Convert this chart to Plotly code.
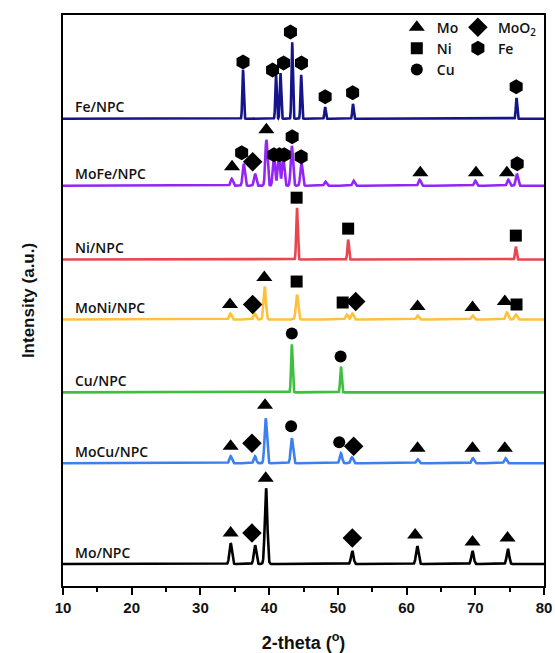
import numpy as np
import plotly.graph_objects as go

# ---------------- data ----------------
samples = ["Mo/NPC", "MoCu/NPC", "Cu/NPC", "MoNi/NPC", "Ni/NPC", "MoFe/NPC", "Fe/NPC"]
offsets = [22, 123, 194, 267, 327, 401, 468]
colors = ["#000000", "#3c7ff0", "#3fbf3f", "#ffc13d", "#e8474f", "#9326f5", "#151589"]

# peak positions (2-theta), heights (a.u.), widths (deg, gaussian sigma)
peak_pos = {
    "Mo/NPC":   [34.4, 37.95, 39.55, 52.1, 61.55, 69.6, 74.75],
    "MoCu/NPC": [34.4, 37.95, 39.5, 43.3, 50.45, 52.05, 61.6, 69.65, 74.4],
    "Cu/NPC":   [43.3, 50.45],
    "MoNi/NPC": [34.35, 37.9, 39.35, 44.05, 51.3, 52.1, 61.6, 69.6, 74.6, 75.9],
    "Ni/NPC":   [44.05, 51.5, 75.9],
    "MoFe/NPC": [34.55, 36.3, 37.95, 39.6, 40.7, 41.4, 42.05, 43.3, 44.7, 48.2, 52.3, 61.9, 70.0, 74.8, 76.05],
    "Fe/NPC":   [36.2, 41.0, 41.65, 43.35, 44.66, 48.15, 52.2, 76.0],
}
peak_h = {
    "Mo/NPC":   [21, 19, 76, 13, 18, 13, 15],
    "MoCu/NPC": [7, 7, 45, 25, 10, 6, 4, 5, 5],
    "Cu/NPC":   [48, 26],
    "MoNi/NPC": [6, 6, 33, 25, 5, 6, 4, 4, 7, 5],
    "Ni/NPC":   [52, 20, 13],
    "MoFe/NPC": [7, 22, 12, 46, 29, 30, 28, 40, 23, 4, 5, 6, 5, 6, 12],
    "Fe/NPC":   [49, 44, 46, 77, 44, 12, 15, 21],
}
peak_w = {
    "Mo/NPC": 0.18, "MoCu/NPC": 0.17, "Cu/NPC": 0.11, "MoNi/NPC": 0.17,
    "Ni/NPC": 0.11, "MoFe/NPC": 0.16, "Fe/NPC": 0.1,
}

# phase markers: (phase, 2-theta, height above the sample baseline)
phase_marks = {
    "Mo/NPC":   [("Mo", 34.4, 31), ("MoO2", 37.5, 31), ("Mo", 39.5, 86), ("MoO2", 52.1, 26),
                 ("Mo", 61.25, 29), ("Mo", 69.6, 22), ("Mo", 74.7, 26)],
    "MoCu/NPC": [("Mo", 34.4, 17), ("MoO2", 37.5, 20), ("Mo", 39.4, 58), ("Cu", 43.2, 37),
                 ("Cu", 50.2, 21), ("MoO2", 52.3, 17), ("Mo", 61.6, 15), ("Mo", 69.6, 15), ("Mo", 74.3, 15)],
    "Cu/NPC":   [("Cu", 43.3, 59), ("Cu", 50.4, 36)],
    "MoNi/NPC": [("Mo", 34.3, 15), ("MoO2", 37.6, 15), ("Mo", 39.3, 42), ("Ni", 44.0, 38),
                 ("Ni", 50.7, 17), ("MoO2", 52.6, 18), ("Mo", 61.6, 13), ("Mo", 69.6, 12),
                 ("Mo", 74.3, 18), ("Ni", 76.0, 15)],
    "Ni/NPC":   [("Ni", 44.0, 62), ("Ni", 51.5, 31), ("Ni", 75.9, 24)],
    "MoFe/NPC": [("Mo", 34.6, 19), ("Fe", 36.0, 33), ("MoO2", 37.6, 24), ("Mo", 39.6, 56),
                 ("Fe", 40.7, 31), ("Fe", 41.5, 31), ("Fe", 42.2, 31), ("Fe", 43.35, 49),
                 ("Fe", 44.66, 29), ("Mo", 62.0, 13), ("Mo", 70.1, 13), ("Mo", 74.6, 13), ("Fe", 76.1, 22)],
    "Fe/NPC":   [("Fe", 36.2, 57), ("Fe", 40.5, 49), ("Fe", 42.1, 56), ("Fe", 43.1, 87),
                 ("Fe", 44.7, 56), ("Fe", 48.15, 22), ("Fe", 52.15, 26), ("Fe", 75.95, 32)],
}

phases = ["Mo", "Ni", "Cu", "MoO2", "Fe"]
phase_names = {"Mo": "Mo", "Ni": "Ni", "Cu": "Cu", "MoO2": "MoO<sub>2</sub>", "Fe": "Fe"}
phase_symbols = {"Mo": "triangle-up", "Ni": "square", "Cu": "circle", "MoO2": "diamond", "Fe": "hexagon"}
phase_sizes = {"Mo": 14, "Ni": 12, "Cu": 12, "MoO2": 15, "Fe": 15}
phase_legend = {"Mo": "legend", "Ni": "legend", "Cu": "legend", "MoO2": "legend2", "Fe": "legend2"}

x_ticks = [10, 20, 30, 40, 50, 60, 70, 80]
x_title = "2-theta (<sup>o</sup>)"
y_title = "Intensity (a.u.)"

# ---------------- figure ----------------
twotheta = np.arange(10.0, 80.0001, 0.02)
fig = go.Figure()

for name, off, col in zip(samples, offsets, colors):
    y = np.full_like(twotheta, float(off))
    for p, h in zip(peak_pos[name], peak_h[name]):
        y += h * np.exp(-0.5 * ((twotheta - p) / peak_w[name]) ** 2)
    fig.add_trace(go.Scatter(x=twotheta, y=y, mode="lines",
                             line=dict(color=col, width=2.6), showlegend=False,
                             hoverinfo="skip"))
    fig.add_annotation(x=11.4, y=off + 12, text=name, showarrow=False,
                       xanchor="left", yanchor="middle",
                       font=dict(family="Open Sans", size=14, color="#111", weight=600))

for ph in phases:
    xs, ys = [], []
    for name, off in zip(samples, offsets):
        for (p, x, h) in phase_marks[name]:
            if p == ph:
                xs.append(x)
                ys.append(off + h)
    fig.add_trace(go.Scatter(x=xs, y=ys, mode="markers", name=phase_names[ph],
                             marker=dict(symbol=phase_symbols[ph], size=phase_sizes[ph],
                                         color="black", line=dict(width=0)),
                             legend=phase_legend[ph]))

legend_font = dict(family="Open Sans", size=14, color="#111", weight=600)
fig.update_layout(
    width=555, height=653,
    margin=dict(l=63, r=11, t=15, b=67, autoexpand=False),
    paper_bgcolor="white", plot_bgcolor="white",
    legend=dict(x=0.694, y=1.006, xanchor="left", yanchor="top", bgcolor="rgba(0,0,0,0)",
                font=legend_font, itemwidth=30, tracegroupgap=0),
    legend2=dict(x=0.821, y=1.006, xanchor="left", yanchor="top", bgcolor="rgba(0,0,0,0)",
                 font=legend_font, itemwidth=30, tracegroupgap=0),
    xaxis=dict(range=[10, 80], tickvals=x_ticks, ticks="outside", ticklen=7, tickwidth=2,
               tickcolor="black", showline=True, linewidth=2, linecolor="black", mirror=True,
               showgrid=False, zeroline=False,
               minor=dict(dtick=5, tick0=10, ticks="outside", ticklen=4, tickwidth=2, tickcolor="black"),
               tickfont=dict(family="Liberation Sans", size=15, color="#111", weight="bold"),
               title=dict(text=x_title, standoff=21,
                          font=dict(family="Liberation Sans", size=18, color="#111", weight="bold"))),
    yaxis=dict(range=[0, 572], showticklabels=False, ticks="", showline=True, linewidth=2,
               linecolor="black", mirror=True, showgrid=False, zeroline=False,
               title=dict(text=y_title, standoff=22,
                          font=dict(family="Liberation Sans", size=17, color="#111", weight="bold"))),
)

fig.write_html("out.html")
